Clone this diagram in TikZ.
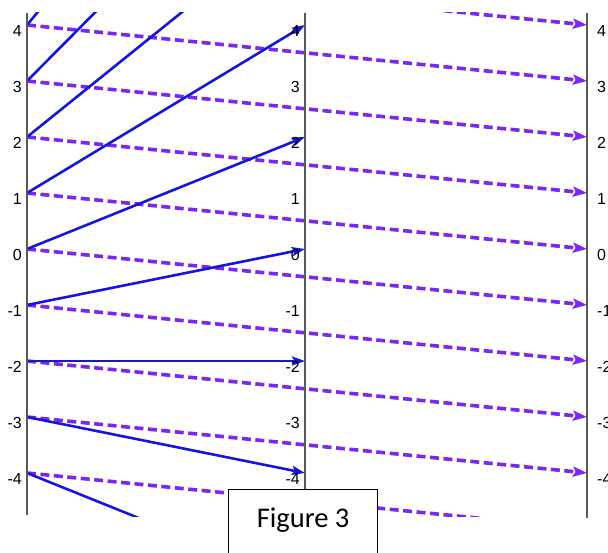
\documentclass[tikz,border=0pt]{standalone}
\usepackage{fontspec}
\setmainfont{Liberation Sans}
\newfontfamily\capfont{Carlito}
\usetikzlibrary{arrows.meta}
\definecolor{mapblue}{RGB}{22,22,218}
\definecolor{shiftviolet}{RGB}{122,40,240}

\begin{document}
\begin{tikzpicture}[
    x=1pt,y=-1pt,
    ax/.style={line width=2.8pt,black!65},
    num/.style={font=\fontsize{16}{16}\selectfont,inner sep=0pt},
    m/.style={-{Stealth[length=13pt,width=9pt,inset=2.5pt]},line width=2.6pt,mapblue},
    sh/.style={-{Stealth[length=14pt,width=10pt,inset=2.5pt]},line width=3.6pt,shiftviolet,dash pattern=on 9pt off 4.5pt},
    capbox/.style={draw=black,fill=white,line width=1.2pt,font=\capfont\fontsize{28.5}{28.5}\selectfont,
      minimum width=149pt,text height=19pt,text depth=40pt,inner ysep=19pt,anchor=north west}
  ]
    \useasboundingbox (0,0) rectangle (608,553);
    % tick points on the three lines
    \foreach \k in {-6,...,10} {
      \coordinate (L\k) at (27,249-56*\k);
      \coordinate (M\k) at (305,249-56*\k);
      \coordinate (R\k) at (587,249-56*\k);
    }
    \coordinate (Lt) at (27,13);  \coordinate (Lb) at (27,515);
    \coordinate (Mt) at (305,13); \coordinate (Mb) at (305,515);
    \coordinate (Rt) at (587,13); \coordinate (Rb) at (587,518);
    \begin{scope}
      \clip (0,13) rectangle (608,516);
      \foreach \k [evaluate=\k as \n using int(\k-1)] in {-4,...,5}
        \draw[sh] (L\k)--(R\n);
      \foreach \k [evaluate=\k as \n using int(2*\k+2)] in {-4,...,4}
        \draw[m] (L\k)--(M\n);
    \end{scope}
    \draw[ax] (Lt)--(Lb); \draw[ax] (Mt)--(Mb); \draw[ax] (Rt)--(Rb);
    \foreach \k in {-4,...,4} {
      \node[num,anchor=east] (lx\k) at ([xshift=-5pt,yshift=-6pt]L\k) {\k};
      \node[num,anchor=east] (mx\k) at ([xshift=-5pt,yshift=-6pt]M\k) {\k};
      \node[num,anchor=west] (rx\k) at ([xshift=10pt,yshift=-6pt]R\k) {\k};
    }
    \node[capbox] (cap) at (228,489) {Figure 3\hspace{12pt}};
  \end{tikzpicture}
\end{document}
